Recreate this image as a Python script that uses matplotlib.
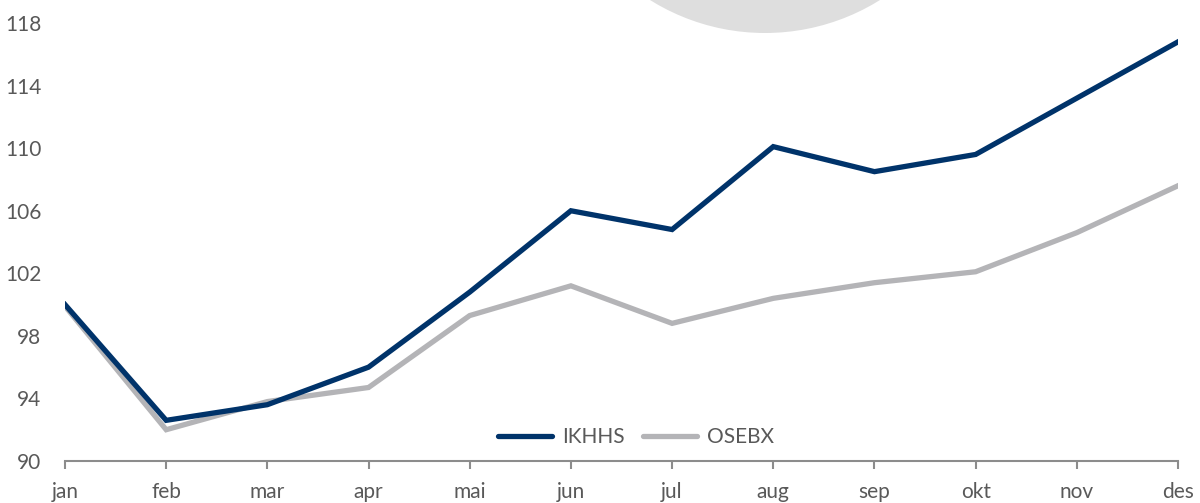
import matplotlib
matplotlib.use("Agg")
import matplotlib.pyplot as plt
from matplotlib.patches import Ellipse

months = ["jan", "feb", "mar", "apr", "mai", "jun", "jul", "aug", "sep", "okt", "nov", "des"]
ikhhs = [100.0, 92.6, 93.6, 96.0, 100.8, 106.0, 104.8, 110.1, 108.5, 109.6, 113.2, 116.8]
osebx = [99.9, 92.0, 93.8, 94.7, 99.3, 101.2, 98.8, 100.4, 101.4, 102.1, 104.6, 107.6]
yticks = [90, 94, 98, 102, 106, 110, 114, 118]

plt.rcParams['font.family'] = ['Lato', 'DejaVu Sans']

W, H = 1200, 503
fig = plt.figure(figsize=(W / 100, H / 100), dpi=100)
# decorative grey circle at top
fig.patches.append(Ellipse((765 / W, 1 + 184 / H), 434 / W, 434 / H,
                           transform=fig.transFigure, facecolor="#DEDEDE",
                           edgecolor="none", zorder=0))

ax = fig.add_axes([65 / W, (H - 461) / H, (1178 - 65) / W, 461 / H])
ax.patch.set_alpha(0)
x = list(range(len(months)))
ax.plot(x, ikhhs, color="#00336A", lw=3.8, label="IKHHS", solid_joinstyle="miter", zorder=3)
ax.plot(x, osebx, color="#B4B4B7", lw=3.8, label="OSEBX", solid_joinstyle="miter", zorder=2)

ax.set_xlim(0, 11)
ax.set_ylim(90, 90 + 461 / 15.64)
ax.set_xticks(x)
ax.set_xticklabels(months)
ax.set_yticks(yticks)
ax.set_yticklabels([str(v) for v in yticks])
for s in ["top", "right", "left"]:
    ax.spines[s].set_visible(False)
ax.spines["bottom"].set_color("#8C8C8C")
ax.spines["bottom"].set_linewidth(1.5)
ax.tick_params(axis="x", direction="out", length=6, width=1.5, color="#8C8C8C",
               pad=9, labelsize=15, labelcolor="#595959")
ax.tick_params(axis="y", length=0, pad=17, labelsize=15, labelcolor="#595959")

leg = ax.legend(loc="center", bbox_to_anchor=(636 / W, (H - 437) / H),
                bbox_transform=fig.transFigure, ncol=2, frameon=False,
                fontsize=15, handlelength=2.6, handletextpad=0.45,
                columnspacing=0.9)
for t in leg.get_texts():
    t.set_color("#595959")
for l in leg.get_lines():
    l.set_solid_capstyle("round")

fig.savefig("out.png", dpi=100)
